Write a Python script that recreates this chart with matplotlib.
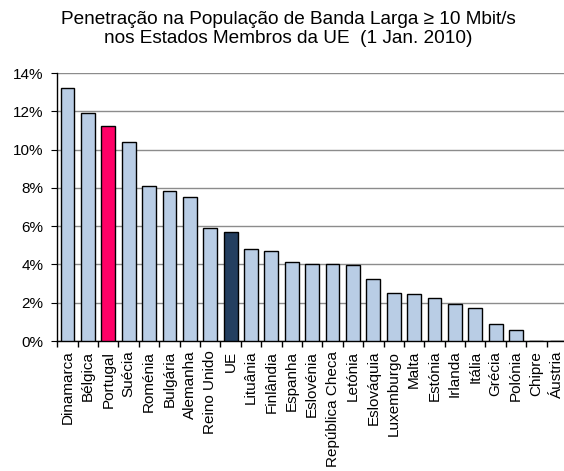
import numpy as np
import matplotlib
matplotlib.use("Agg")
import matplotlib.pyplot as plt
from matplotlib.ticker import FuncFormatter, FixedLocator

plt.rcParams['font.family'] = ['Liberation Sans', 'DejaVu Sans']

paises = ["Dinamarca", "Bélgica", "Portugal", "Suécia", "Roménia", "Bulgária",
          "Alemanha", "Reino Unido", "UE", "Lituânia", "Finlândia", "Espanha",
          "Eslovénia", "República Checa", "Letónia", "Eslováquia", "Luxemburgo",
          "Malta", "Estónia", "Irlanda", "Itália", "Grécia", "Polónia", "Chipre",
          "Áustria"]
valores = [13.23, 11.92, 11.24, 10.37, 8.12, 7.84, 7.50, 5.88, 5.72, 4.80,
           4.68, 4.14, 4.03, 4.02, 3.97, 3.26, 2.50, 2.45, 2.24, 1.95, 1.72,
           0.88, 0.56, 0.02, 0.0]

cores = []
for p in paises:
    if p == "Portugal":
        cores.append("#FF0066")
    elif p == "UE":
        cores.append("#243F60")
    else:
        cores.append("#B9CDE5")

fig = plt.figure(figsize=(5.64, 4.71), dpi=100)
ax = fig.add_axes([0.1016, 0.276, 0.9037, 0.569])

x = np.arange(len(paises))
ax.bar(x, valores, width=0.68, color=cores, edgecolor="black", linewidth=1, zorder=3)

ax.set_xlim(-0.5, len(paises) - 0.5)
ax.set_ylim(0, 14)
ax.set_yticks(range(0, 15, 2))
ax.yaxis.set_major_formatter(FuncFormatter(lambda v, pos: "%d%%" % v))
ax.grid(axis="y", color="#8c8c8c", linewidth=1, zorder=0)

ax.set_xticks(x)
ax.set_xticklabels(paises, rotation=90, fontsize=11)
ax.tick_params(axis="x", length=0, pad=7)
ax.xaxis.set_minor_locator(FixedLocator(np.arange(-0.5, len(paises), 1)))
ax.tick_params(axis="x", which="minor", length=4, width=1, direction="out")
ax.tick_params(axis="y", labelsize=11, length=4, pad=6, direction="out")

for s in ["top", "right"]:
    ax.spines[s].set_visible(False)
ax.spines["left"].set_linewidth(1)
ax.spines["bottom"].set_linewidth(1)

fig.text(0.511, 0.976, "Penetração na População de Banda Larga ≥ 10 Mbit/s\nnos Estados Membros da UE  (1 Jan. 2010)",
         ha="center", va="top", fontsize=13.7, linespacing=1.15)

fig.savefig("out.png", dpi=100)
